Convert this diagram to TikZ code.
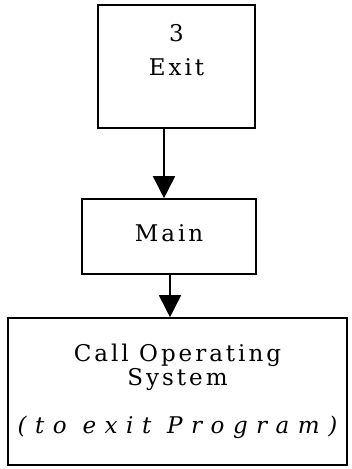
\documentclass[tikz,border=0pt]{standalone}
\usepackage{fontspec}
\setmainfont[LetterSpace=13]{DejaVu Serif}
\newfontfamily\wideit[LetterSpace=37]{DejaVu Serif}
\usetikzlibrary{arrows.meta}

\begin{document}
\begin{tikzpicture}
	[x=1pt,y=-1pt,line width=1.6pt,>={Triangle[length=22pt,width=22pt]},
	font=\fontsize{23}{34}\selectfont]
	\useasboundingbox (0,0) rectangle (352,469);
	\node[draw, minimum width=157pt, minimum height=123pt, align=center] (exit) at (176.5,66.5) {3\\Exit\\\mbox{}};
	\node[draw, minimum width=174pt, minimum height=75pt] (main) at (169,236.5) {\raisebox{7pt}{Main}};
	\node[draw, minimum width=339pt, minimum height=147pt, align=center] (os) at (177.5,391.5)
		{Call Operating\\[-10pt]System\\[-10pt]\mbox{}\\[-10pt]{\wideit\itshape (to exit Program)}};
	
	\foreach \from/\to/\x in {exit/main/164,main/os/170}
	\draw[->] (\from.south -| \x,0) -- (\to.north -| \x,0);
\end{tikzpicture}
\end{document}
